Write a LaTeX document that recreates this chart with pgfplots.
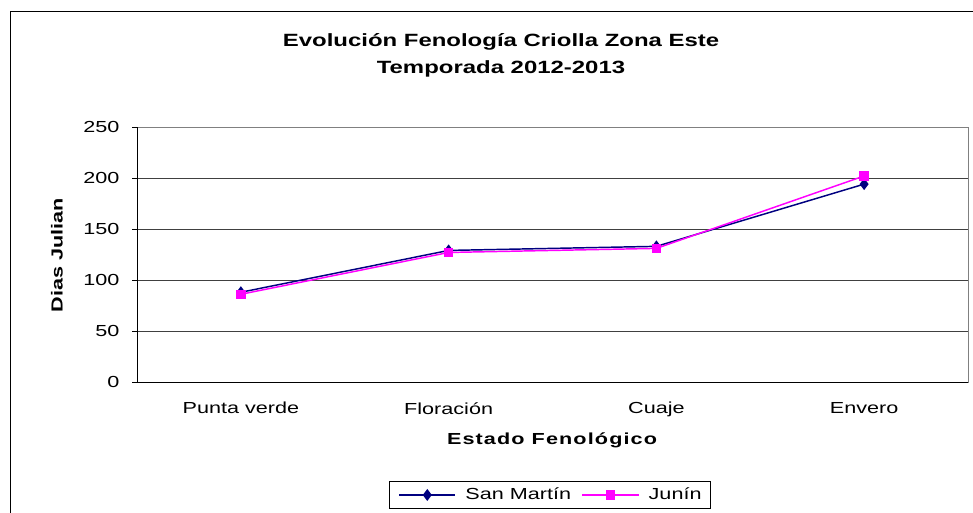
\documentclass[border=0pt]{standalone}
\usepackage{fontspec}
\setmainfont{Liberation Sans}[FakeStretch=1.35]
\newfontfamily\spacedfont{Liberation Sans}[FakeStretch=1.35,LetterSpace=7]
\usepackage{pgfplots}
\pgfplotsset{compat=1.18}
\definecolor{smcol}{HTML}{000080}
\definecolor{jucol}{HTML}{FF00FF}
\begin{document}
\begin{tikzpicture}[x=0.75pt,y=0.75pt]
\useasboundingbox (0,0) rectangle (973,512);
% chart border
\draw[black,line width=0.75pt] (10,-20) -- (10,500) -- (1000,500);
% title
\node[anchor=base,font=\fontsize{13.3}{15}\selectfont\bfseries] at (501,465) {Evolución Fenología Criolla Zona Este};
\node[anchor=base,font=\fontsize{13.3}{15}\selectfont\bfseries] at (501,439) {Temporada 2012-2013};
% y label
\node[rotate=90,font=\fontsize{12}{14}\selectfont\bfseries] at (57,257) {Dias Julian};
% x label
\node[font=\fontsize{12}{14}\spacedfont\selectfont\bfseries] at (552,72) {Estado Fenológico};
\begin{axis}[
  at={(102.75pt,97.5pt)}, anchor=south west,
  width=623.25pt, height=191.25pt, scale only axis,
  xmin=-0.5, xmax=3.5, ymin=0, ymax=250,
  xtick={0,1,2,3},
  xticklabels={Punta verde,Floración,Cuaje,Envero},
  minor xtick={0.5,1.5,2.5},
  ytick={0,50,100,150,200,250},
  xtick pos=bottom, ytick pos=left,
  ymajorgrids,
  major grid style={black!75,line width=0.6pt},
  tick align=outside,
  x tick style={draw=none},
  minor x tick style={black,line width=0.6pt},
  minor tick length=3.5pt,
  y tick style={black,line width=0.6pt},
  major tick length=3.75pt,
  axis line style={gray,line width=0.75pt},
  tick label style={font=\fontsize{12}{14}\selectfont},
  /pgf/number format/assume math mode=true,
  xticklabel style={yshift=-8pt},
  yticklabel style={xshift=-6pt},
  clip=false,
  legend columns=2,
  legend style={at={(0.497,-0.443)},anchor=center,draw=black,line width=0.6pt,
    font=\fontsize{12}{14}\selectfont,inner xsep=6.5pt,inner ysep=3pt,
    nodes={inner xsep=0pt},
    /tikz/every odd column/.append style={column sep=7pt},
    /tikz/every even column/.append style={column sep=8pt}},
  legend image code/.code={\draw[mark repeat=2,mark phase=2] plot coordinates {(0cm,0cm) (0.74cm,0cm) (1.48cm,0cm)};},
]
\addplot[smcol,line width=1.1pt,mark=diamond*,mark size=3.6pt,mark options={solid,fill=smcol,draw=smcol}]
  coordinates {(0,88) (1,129) (2,133) (3,194)};
\addlegendentry{San Martín}
\addplot[jucol,line width=1.1pt,mark=square*,mark size=3pt,mark options={solid,fill=jucol,draw=jucol}]
  coordinates {(0,86) (1,127) (2,131) (3,202)};
\addlegendentry{Junín}
\draw[black,line width=0.75pt] (rel axis cs:0,1) -- (rel axis cs:0,0) -- (rel axis cs:1,0);
\end{axis}
\end{tikzpicture}
\end{document}
